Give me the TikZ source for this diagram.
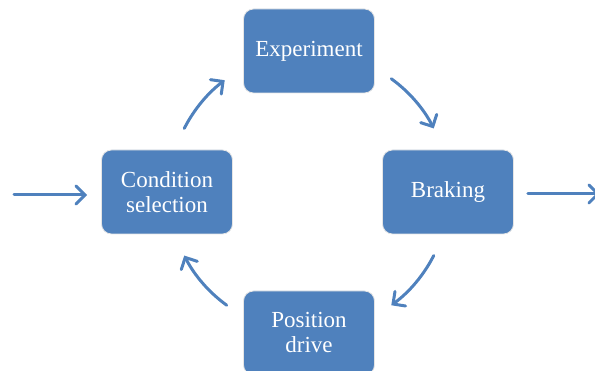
\documentclass[tikz,border=0pt]{standalone}
\usepackage{fontspec}
\setmainfont{Liberation Serif}
\usetikzlibrary{arrows.meta, positioning, calc}
\definecolor{boxblue}{HTML}{4F81BD}

\begin{document}
\begin{tikzpicture}[
    x=1pt, y=1pt,
    stage/.style={rectangle, rounded corners=10pt, draw=black!10, line width=0.8pt, fill=boxblue,
        text=white, minimum width=131pt, minimum height=84pt, align=center,
        font=\fontsize{23}{25}\selectfont},
    flow/.style={draw=boxblue, line width=3pt, line cap=round,
        -{Straight Barb[length=9pt, width=18pt, line cap=round]}},
]
\clip (0,0) rectangle (595,371);

% stages of the loop
\node[stage] (exp)  at (309,320) {Experiment};
\node[stage] (brak) at (448,179) {Braking};
\node[stage] (pos)  at (309,38)  {Position\\drive};
\node[stage] (cond) at (167,179) {Condition\\selection};

% centre of the loop
\coordinate (hub) at (309,179);

% in and out
\coordinate (in)  at (14,176);
\coordinate (out) at (600,177);
\draw[flow] (in) -- ($(cond.west)+(-14,-3)$);
\draw[flow] ($(brak.east)+(14,-2)$) -- (out);

% loop arrows
\draw[flow] ($(hub)+(153:140)$) arc[start angle=153, end angle=127, radius=140];  % cond -> exp
\draw[flow] ($(hub)+(54:140)$) arc[start angle=54, end angle=27, radius=140];     % exp -> brak
\draw[flow] ($(hub)+(-27:140)$) arc[start angle=-27, end angle=-54, radius=140];  % brak -> pos
\draw[flow] ($(hub)+(-126:140)$) arc[start angle=-126, end angle=-153, radius=140]; % pos -> cond

\end{tikzpicture}
\end{document}
